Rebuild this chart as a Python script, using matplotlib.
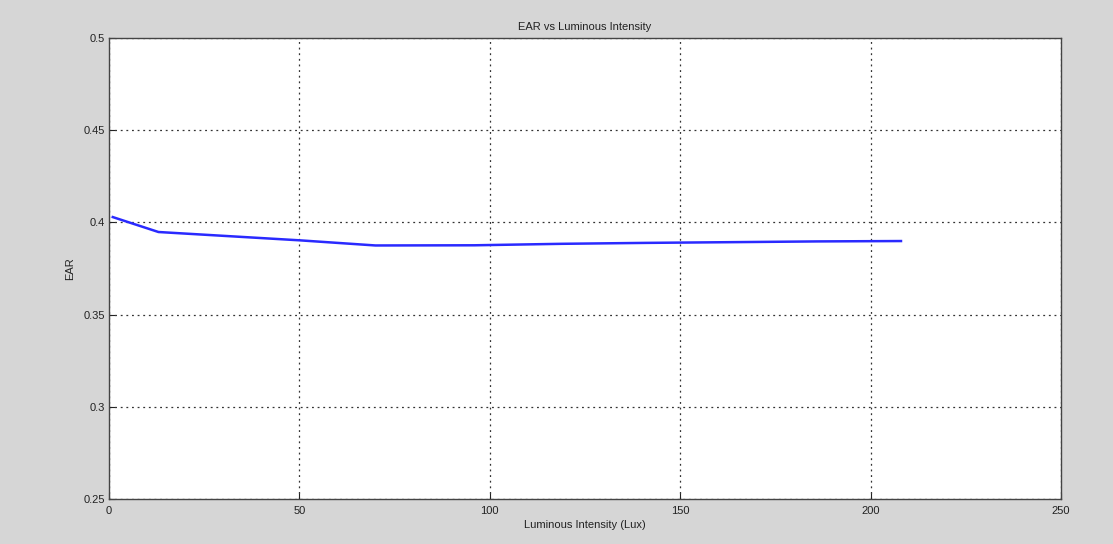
import matplotlib
matplotlib.use("Agg")
import matplotlib.pyplot as plt

lux = [1, 13, 50, 70, 96, 119, 141, 164, 186, 208]
ear = [0.4029, 0.3948, 0.3903, 0.3875, 0.3876, 0.3884, 0.3889, 0.3893, 0.3897, 0.3899]
xticks = [0, 50, 100, 150, 200, 250]
yticks = [0.25, 0.3, 0.35, 0.4, 0.45, 0.5]
ytick_labels = ["0.25", "0.3", "0.35", "0.4", "0.45", "0.5"]

plt.rcParams['font.family'] = ['Liberation Sans', 'DejaVu Sans']
fig = plt.figure(figsize=(11.13, 5.44), dpi=100, facecolor='#d6d6d6')
ax = fig.add_axes([0.0979, 0.0827, 0.8553, 0.8474])
ax.set_facecolor('white')
ax.plot(lux, ear, color='#2a2aff', linewidth=1.8)
ax.set_xlim(0, 250)
ax.set_ylim(0.25, 0.5)
ax.set_xticks(xticks)
ax.set_yticks(yticks)
ax.set_yticklabels(ytick_labels)
ax.grid(True, linestyle=(0, (1.5, 3)), color='#333333', linewidth=0.9)
ax.tick_params(direction='in', labelsize=8, colors='#222222', length=4)
ax.tick_params(axis='x', pad=5)
ax.tick_params(axis='y', pad=3)
for s in ax.spines.values():
    s.set_color('#444444')
    s.set_linewidth(1.0)
ax.set_title("EAR vs Luminous Intensity", fontsize=8, color='#222222', pad=6)
ax.set_xlabel("Luminous Intensity (Lux)", fontsize=8, color='#222222', labelpad=3)
ax.set_ylabel("EAR", fontsize=8, color='#222222', labelpad=6)
fig.savefig("out.png", dpi=100, facecolor=fig.get_facecolor())
